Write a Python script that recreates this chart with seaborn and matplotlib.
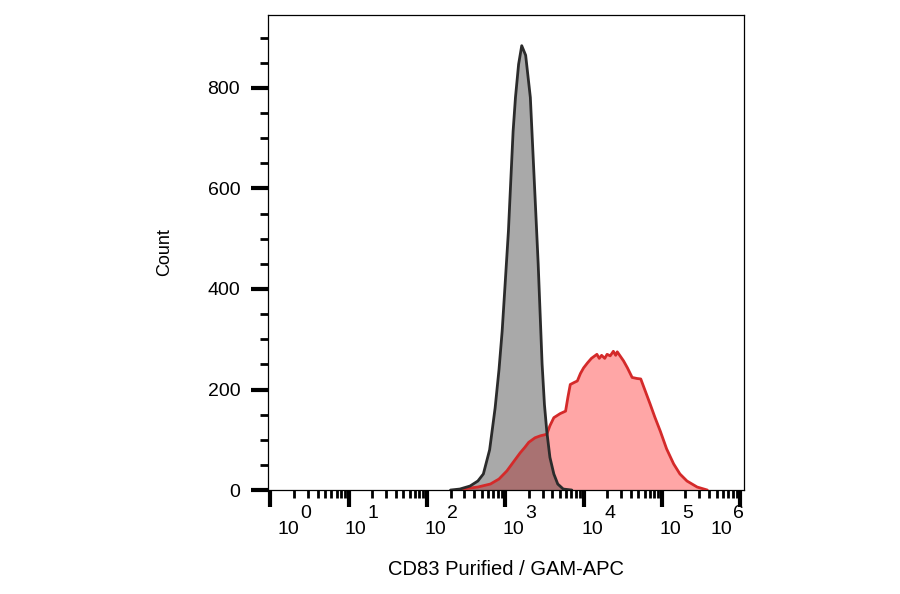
import numpy as np
import pandas as pd
import seaborn as sns
import matplotlib
matplotlib.use("Agg")
import matplotlib.pyplot as plt
import matplotlib.ticker as mticker
from matplotlib.transforms import ScaledTranslation, blended_transform_factory

# isotype control (grey), log10 of fluorescence vs count
grey_log = [2.30, 2.42, 2.55, 2.65, 2.72, 2.80, 2.87, 2.92, 2.96, 3.00, 3.04, 3.07, 3.10,
            3.13, 3.17, 3.21, 3.26, 3.32, 3.36, 3.39, 3.42, 3.47, 3.50, 3.53, 3.57, 3.62,
            3.67, 3.74, 3.85]
grey_cnt = [0, 2, 8, 18, 32, 80, 163, 240, 316, 415, 515, 615, 714,
            781, 847, 884, 865, 781, 649, 550, 450, 251, 170, 117, 65, 32,
            12, 2, 0]

# CD83 stained (red)
red_log = [2.40, 2.50, 2.65, 2.81, 2.92, 3.02, 3.10, 3.19, 3.25, 3.30, 3.38, 3.45, 3.53,
           3.57, 3.62, 3.70, 3.77, 3.80, 3.83, 3.88, 3.92, 3.96, 4.00, 4.05, 4.10, 4.17,
           4.20, 4.23, 4.27, 4.30, 4.34, 4.38, 4.41, 4.43, 4.47, 4.51, 4.56, 4.62, 4.68,
           4.73, 4.79, 4.85, 4.91, 4.98, 5.06, 5.15, 5.23, 5.32, 5.45, 5.58]
red_cnt = [0, 3, 6, 12, 22, 38, 55, 74, 85, 95, 104, 108, 111,
           128, 144, 152, 157, 185, 210, 214, 217, 232, 243, 253, 262, 270,
           262, 268, 262, 270, 267, 276, 268, 275, 266, 257, 243, 224, 222,
           221, 196, 171, 145, 117, 82, 52, 32, 18, 6, 0]

decades = [0, 1, 2, 3, 4, 5, 6]
xlabel = "CD83 Purified / GAM-APC"
ylabel = "Count"

sns.set_style("ticks")
plt.rcParams['font.family'] = ['Liberation Sans', 'DejaVu Sans']
plt.rcParams['text.color'] = 'black'
plt.rcParams['axes.labelcolor'] = 'black'
plt.rcParams['xtick.color'] = 'black'
plt.rcParams['ytick.color'] = 'black'

grey = pd.DataFrame({'x': 10.0 ** np.array(grey_log), 'y': grey_cnt})
red = pd.DataFrame({'x': 10.0 ** np.array(red_log), 'y': red_cnt})

fig = plt.figure(figsize=(9, 5.94), dpi=100)
ax = fig.add_axes([0.2978, 0.175, 0.529, 0.7997])

ax.fill_between(red['x'], red['y'], color='#ffa6a6', lw=0, zorder=1)
ax.fill_between(grey['x'], grey['y'], color='#1f1f1f', alpha=0.38, lw=0, zorder=2)
sns.lineplot(data=red, x='x', y='y', color='#d42a2a', lw=2, estimator=None, ax=ax, zorder=3)
sns.lineplot(data=grey, x='x', y='y', color='#2b2b2b', lw=2, estimator=None, ax=ax, zorder=4)

ax.set_xscale('log')
ax.set_xlim(10 ** -0.03, 10 ** 6.05)
ax.set_ylim(0, 945)

ax.xaxis.set_major_locator(mticker.FixedLocator([10.0 ** d for d in decades]))
ax.xaxis.set_minor_locator(mticker.LogLocator(base=10, subs=np.arange(2, 10), numticks=20))
ax.xaxis.set_minor_formatter(mticker.NullFormatter())
ax.set_xticklabels(['10' for d in decades])
ax.yaxis.set_major_locator(mticker.MultipleLocator(200))
ax.yaxis.set_minor_locator(mticker.MultipleLocator(50))

ax.tick_params(axis='both', which='major', direction='out', length=12, width=3, labelsize=14)
ax.tick_params(axis='both', which='minor', direction='out', length=6, width=2)
ax.tick_params(axis='x', which='major', pad=10)
ax.tick_params(axis='y', which='major', pad=8)

# decade labels sit a bit right of their ticks, the end ones pulled inward
shift_px = [18, 7, 8, 8, 9, 8, -19]
bt = blended_transform_factory(ax.transData, ax.transAxes)
for lab, d, s in zip(ax.get_xticklabels(), decades, shift_px):
    lab.set_transform(lab.get_transform() + ScaledTranslation(s / 100, 0, fig.dpi_scale_trans))
    ax.text(10.0 ** d, 0, str(d), fontsize=14, ha='left', va='center',
            transform=bt + ScaledTranslation((s + 12) / 100, -0.23, fig.dpi_scale_trans))

for sp in ax.spines.values():
    sp.set_linewidth(0.9)
    sp.set_color('black')

ax.set_xlabel(xlabel, fontsize=14.5, labelpad=16)
ax.set_ylabel(ylabel, fontsize=13)
ax.yaxis.set_label_coords(-0.2, 0.5)

fig.savefig('out.png', dpi=100)
